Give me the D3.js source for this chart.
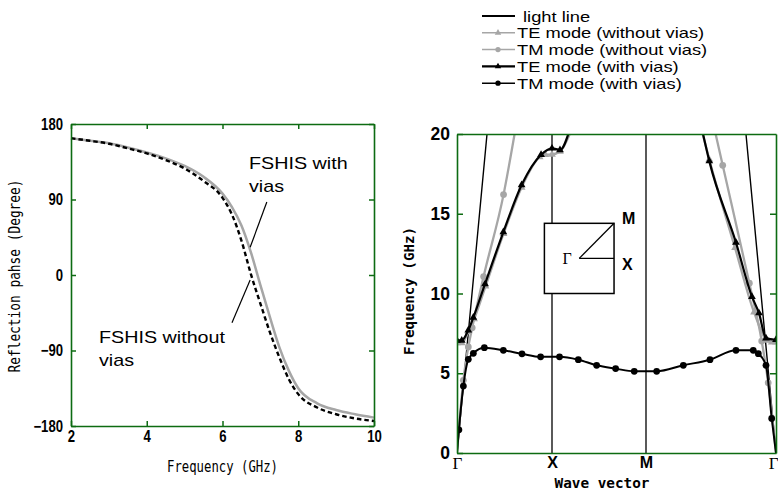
<!DOCTYPE html>
<html><head><meta charset="utf-8">
<script src="https://cdn.jsdelivr.net/npm/d3@7"></script>
<style>body{margin:0;background:#fff;} svg{display:block;}</style>
</head><body>
<svg id="c" width="778" height="491"></svg>
<script>
// ---------- DATA ----------
// Left chart: reflection phase vs frequency
const freqGHz = [2, 2.5, 3, 3.5, 4, 4.5, 5, 5.5, 6, 6.25, 6.5, 6.75, 7, 7.25, 7.5, 7.75, 8, 8.5, 9, 9.5, 10];
const phaseWithVias =    [163, 160, 157, 152, 146, 139, 130, 117, 97, 81, 59, 27, -12, -50, -86, -114, -135, -153, -161, -166, -170];
const phaseWithoutVias = [163, 160, 156.5, 151, 145, 137, 127, 112, 92, 72, 41, 1, -34, -68, -98, -124, -142, -158, -166, -171, -174];
const leftXTicks = [2, 4, 6, 8, 10];
const leftYTicks = [-180, -90, 0, 90, 180];

// Right chart: dispersion diagram. k: 0=Γ, 1=X, 2=M, 3=Γ (null = branch break)
const kLight = [0, 0.316, null, 3, 2.769];
const fLight = [0, 20, null, 0, 20];
const kTEwithout = [0, 0.05, 0.12, 0.18, 0.30, 0.49, 0.68, 0.87, 0.93, 1.0, 1.085, 1.21, null, 2.43, 2.487, 2.685, 2.831, 2.93, 2.967, 3];
const fTEwithout = [6.9, 6.9, 7.6, 8.4, 10.45, 13.75, 16.65, 18.55, 18.7, 18.72, 18.9, 20.3, null, 20.2, 18.4, 12.86, 8.83, 7.05, 6.95, 6.95];
const kTMwithout = [0, 0.067, 0.119, 0.16, 0.28, 0.49, 0.615, null, 2.53, 2.59, 2.795, 2.89, 2.94, 3];
const fTMwithout = [0, 4.56, 6.65, 7.85, 11.06, 16.2, 20.3, null, 20.2, 18.04, 10.65, 7.02, 4.4, 0];
const kTEwith = [0, 0.05, 0.119, 0.172, 0.295, 0.488, 0.68, 0.885, 1.0, 1.085, 1.19, null, 2.433, 2.487, 2.692, 2.815, 2.869, 2.923, 3];
const fTEwith = [7.06, 7.06, 7.7, 8.5, 10.6, 13.85, 16.8, 18.7, 19.1, 19.0, 20.3, null, 20.2, 18.3, 13.2, 9.8, 8.77, 7.2, 7.1];
const kTMwith = [0, 0.02, 0.067, 0.119, 0.172, 0.288, 0.488, 0.684, 0.88, 1.08, 1.28, 1.475, 1.677, 1.875, 2.082, 2.287, 2.492, 2.692, 2.825, 2.864, 2.923, 2.967, 3];
const fTMwith = [0, 1.45, 4.2, 5.87, 6.25, 6.6, 6.44, 6.22, 6.03, 6.03, 5.85, 5.5, 5.29, 5.12, 5.12, 5.5, 5.85, 6.44, 6.44, 6.23, 5.5, 2.17, 0];
const rightYTicks = [0, 5, 10, 15, 20];
const kTickPos = [0, 1, 2, 3];
const kTickLabels = ["Γ", "X", "M", "Γ"];
const legendLabels = ["light line", "TE mode (without vias)", "TM mode (without vias)", "TE mode (with vias)", "TM mode (with vias)"];

// ---------- DRAWING ----------
const svg = d3.select("#c");
const GREEN = "#0d6b12";
const GRAY = "#a6a6a6";
function fit(sel, factor) {
  sel.each(function () {
    const l = this.getComputedTextLength();
    this.setAttribute("textLength", l * factor);
    this.setAttribute("lengthAdjust", "spacingAndGlyphs");
  });
}

// ===== Left chart =====
const xL = d3.scaleLinear().domain([2, 10]).range([71, 374]);
const yL = d3.scaleLinear().domain([-180, 180]).range([426, 124]);
const gL = svg.append("g");
const phaseLine = arr => d3.line().x((d, i) => xL(freqGHz[i])).y(d => yL(d)).curve(d3.curveMonotoneX)(arr);
gL.append("path").attr("d", phaseLine(phaseWithVias)).attr("fill", "none").attr("stroke", GRAY).attr("stroke-width", 2.5);
gL.append("path").attr("d", phaseLine(phaseWithoutVias)).attr("fill", "none").attr("stroke", "#000").attr("stroke-width", 2.4).attr("stroke-dasharray", "4.5,3");

function styleAxis(g) {
  g.selectAll("path,line").attr("stroke", GREEN).attr("stroke-width", 1.5);
  g.select(".domain").attr("stroke-width", 1.6);
}
const ayL = gL.append("g").attr("transform", `translate(${xL.range()[0]},0)`)
  .call(d3.axisLeft(yL).tickValues(leftYTicks).tickSizeInner(-5).tickSizeOuter(0).tickPadding(8));
const ayR = gL.append("g").attr("transform", `translate(${xL.range()[1]},0)`)
  .call(d3.axisRight(yL).tickValues(leftYTicks).tickSizeInner(-5).tickSizeOuter(0).tickFormat(() => ""));
const axT = gL.append("g").attr("transform", `translate(0,${yL.range()[1]})`)
  .call(d3.axisTop(xL).tickValues(leftXTicks).tickSizeInner(-5).tickSizeOuter(0).tickFormat(() => ""));
const axB = gL.append("g").attr("transform", `translate(0,${yL.range()[0]})`)
  .call(d3.axisBottom(xL).tickValues(leftXTicks).tickSizeInner(-5).tickSizeOuter(0).tickPadding(5));
[ayL, ayR, axT, axB].forEach(styleAxis);
[ayL, axB].forEach(a => {
  a.selectAll("text").attr("font-family", "Liberation Sans, Arial, sans-serif").attr("font-weight", "bold")
    .attr("font-size", 16).attr("fill", "#000");
  fit(a.selectAll("text"), 0.82);
});

// titles
gL.append("text").attr("x", 222.5).attr("y", 472).attr("text-anchor", "middle")
  .attr("font-family", "DejaVu Sans Mono, monospace").attr("font-size", 15).attr("textLength", 111)
  .attr("lengthAdjust", "spacingAndGlyphs").text("Frequency (GHz)");
gL.append("text").attr("transform", "translate(15,276) rotate(-90)").attr("text-anchor", "middle")
  .attr("dominant-baseline", "central")
  .attr("font-family", "DejaVu Sans Mono, monospace").attr("font-size", 15).attr("textLength", 193)
  .attr("lengthAdjust", "spacingAndGlyphs").text("Reflection pahse (Degree)");

// annotations
function annot(lines, x, y0) {
  lines.forEach((t, i) => {
    const tx = gL.append("text").attr("x", x).attr("y", y0 + i * 22.7)
      .attr("font-family", "Liberation Sans, Arial, sans-serif").attr("font-size", 17).text(t);
    fit(tx, 1.16);
  });
}
annot(["FSHIS with", "vias"], 249, 169);
annot(["FSHIS without", "vias"], 99, 343);
gL.append("line").attr("x1", xL(7.17)).attr("y1", yL(87)).attr("x2", xL(6.73)).attr("y2", yL(33)).attr("stroke", "#000").attr("stroke-width", 1.2);
gL.append("line").attr("x1", xL(6.25)).attr("y1", yL(-57)).attr("x2", xL(6.73)).attr("y2", yL(-6)).attr("stroke", "#000").attr("stroke-width", 1.2);

// ===== Right chart =====
const xR = d3.scaleLinear().domain([0, 1, 2, 3]).range([457, 552, 646, 776]);
const yR = d3.scaleLinear().domain([0, 20]).range([453, 134]);
const gR = svg.append("g");
svg.append("defs").append("clipPath").attr("id", "clipR").append("rect")
  .attr("x", xR(0)).attr("y", yR(20)).attr("width", xR(3) - xR(0)).attr("height", yR(0) - yR(20));

// vertical symmetry-point lines
gR.selectAll("line.sym").data([1, 2]).join("line").attr("class", "sym")
  .attr("x1", d => xR(d)).attr("x2", d => xR(d)).attr("y1", yR(0)).attr("y2", yR(20))
  .attr("stroke", "#000").attr("stroke-width", 1.3);

// inset Brillouin zone
const bx0 = xR(0.92), bx1 = xR(1.66), by0 = yR(14.4), by1 = yR(10.0);
const bcx = (bx0 + bx1) / 2, bcy = (by0 + by1) / 2;
gR.append("rect").attr("x", bx0).attr("y", by0).attr("width", bx1 - bx0).attr("height", by1 - by0)
  .attr("fill", "#fff").attr("stroke", "#000").attr("stroke-width", 1.5);
gR.append("line").attr("x1", bcx).attr("y1", bcy).attr("x2", bx1).attr("y2", by0).attr("stroke", "#000").attr("stroke-width", 1.3);
gR.append("line").attr("x1", bcx).attr("y1", bcy).attr("x2", bx1).attr("y2", bcy).attr("stroke", "#000").attr("stroke-width", 1.3);
gR.append("text").attr("x", bcx - 12).attr("y", bcy + 6).attr("text-anchor", "middle")
  .attr("font-family", "Liberation Serif, Times New Roman, serif").attr("font-size", 16).text("Γ");
gR.append("text").attr("x", bx1 + 8).attr("y", by0 + 0.5).attr("font-family", "Liberation Sans, Arial, sans-serif")
  .attr("font-weight", "bold").attr("font-size", 16).text("M");
gR.append("text").attr("x", bx1 + 8).attr("y", bcy + 12).attr("font-family", "Liberation Sans, Arial, sans-serif")
  .attr("font-weight", "bold").attr("font-size", 16).text("X");

// series
const series = [
  { k: kLight, f: fLight, color: "#000", width: 1.4, marker: null, curve: d3.curveLinear },
  { k: kTEwithout, f: fTEwithout, color: GRAY, width: 2.3, marker: "tri", curve: d3.curveMonotoneX },
  { k: kTMwithout, f: fTMwithout, color: GRAY, width: 2.3, marker: "circ", curve: d3.curveMonotoneX },
  { k: kTEwith, f: fTEwith, color: "#000", width: 2.2, marker: "tri", curve: d3.curveMonotoneX },
  { k: kTMwith, f: fTMwith, color: "#000", width: 2.0, marker: "circ", curve: d3.curveMonotoneX },
];
const gS = gR.append("g").attr("clip-path", "url(#clipR)");
const triSym = d3.symbol().type(d3.symbolTriangle).size(26);
const circSym = d3.symbol().type(d3.symbolCircle).size(36);
series.forEach(s => {
  const pts = s.k.map((k, i) => ({ k, f: s.f[i] }));
  const line = d3.line().defined(d => d.k != null && d.f != null).x(d => xR(d.k)).y(d => yR(d.f)).curve(s.curve);
  gS.append("path").attr("d", line(pts)).attr("fill", "none").attr("stroke", s.color).attr("stroke-width", s.width);
  if (s.marker) {
    gS.selectAll(null).data(pts.filter(d => d.f != null && d.f > 0 && d.f < 20)).join("path")
      .attr("transform", d => `translate(${xR(d.k)},${yR(d.f)})`)
      .attr("d", s.marker === "tri" ? triSym() : circSym()).attr("fill", s.color);
  }
});

// right axes
const ryL = gR.append("g").attr("transform", `translate(${xR(0)},0)`)
  .call(d3.axisLeft(yR).tickValues(rightYTicks).tickSizeInner(-6).tickSizeOuter(0).tickPadding(7));
const ryR = gR.append("g").attr("transform", `translate(${xR(3)},0)`)
  .call(d3.axisRight(yR).tickValues(rightYTicks.slice(1, -1)).tickSizeInner(-6).tickSizeOuter(0).tickFormat(() => ""));
const rxT = gR.append("g").attr("transform", `translate(0,${yR(20)})`)
  .call(d3.axisTop(xR).tickValues([]).tickSizeOuter(0));
const rxB = gR.append("g").attr("transform", `translate(0,${yR(0)})`)
  .call(d3.axisBottom(xR).tickValues(kTickPos).tickSize(0).tickPadding(4).tickFormat((d, i) => kTickLabels[i]));
[ryL, ryR, rxT, rxB].forEach(styleAxis);
ryL.selectAll("text").attr("font-family", "Liberation Sans, Arial, sans-serif").attr("font-weight", "bold")
  .attr("font-size", 17.5).attr("fill", "#000");
rxB.selectAll("text").attr("fill", "#000")
  .attr("font-family", (d, i) => kTickLabels[i] === "Γ" ? "Liberation Serif, Times New Roman, serif" : "Liberation Sans, Arial, sans-serif")
  .attr("font-weight", (d, i) => kTickLabels[i] === "Γ" ? "normal" : "bold")
  .attr("font-size", (d, i) => kTickLabels[i] === "Γ" ? 17 : 16)
  .attr("text-anchor", (d, i) => i === kTickLabels.length - 1 ? "end" : "middle")
  .attr("dx", (d, i) => i === kTickLabels.length - 1 ? 2 : 0);

gR.append("text").attr("x", 602).attr("y", 488).attr("text-anchor", "middle")
  .attr("font-family", "DejaVu Sans Mono, monospace").attr("font-weight", "bold").attr("font-size", 14)
  .attr("textLength", 95).attr("lengthAdjust", "spacingAndGlyphs").text("Wave vector");
gR.append("text").attr("transform", "translate(409,291) rotate(-90)").attr("text-anchor", "middle")
  .attr("dominant-baseline", "central")
  .attr("font-family", "DejaVu Sans Mono, monospace").attr("font-weight", "bold").attr("font-size", 14)
  .attr("textLength", 128).attr("lengthAdjust", "spacingAndGlyphs").text("Frequency (GHz)");

// legend
const gLeg = svg.append("g");
legendLabels.forEach((lab, i) => {
  const s = series[i];
  const y = 16 + i * 16.8;
  gLeg.append("line").attr("x1", 482).attr("x2", 515).attr("y1", y).attr("y2", y)
    .attr("stroke", s.color).attr("stroke-width", i === 0 ? 2 : (s.color === GRAY ? 1.5 : (s.marker === "tri" ? 2.4 : 1.6)));
  if (s.marker) {
    gLeg.append("path").attr("transform", `translate(498,${y})`)
      .attr("d", s.marker === "tri" ? d3.symbol().type(d3.symbolTriangle).size(18)() : d3.symbol().type(d3.symbolCircle).size(22)())
      .attr("fill", s.color);
  }
  const t = gLeg.append("text").attr("x", i === 0 ? 523 : 517).attr("y", y + 5.5)
    .attr("font-family", "Liberation Sans, Arial, sans-serif").attr("font-size", 15).text(lab);
  fit(t, 1.22);
});
</script>
</body></html>
